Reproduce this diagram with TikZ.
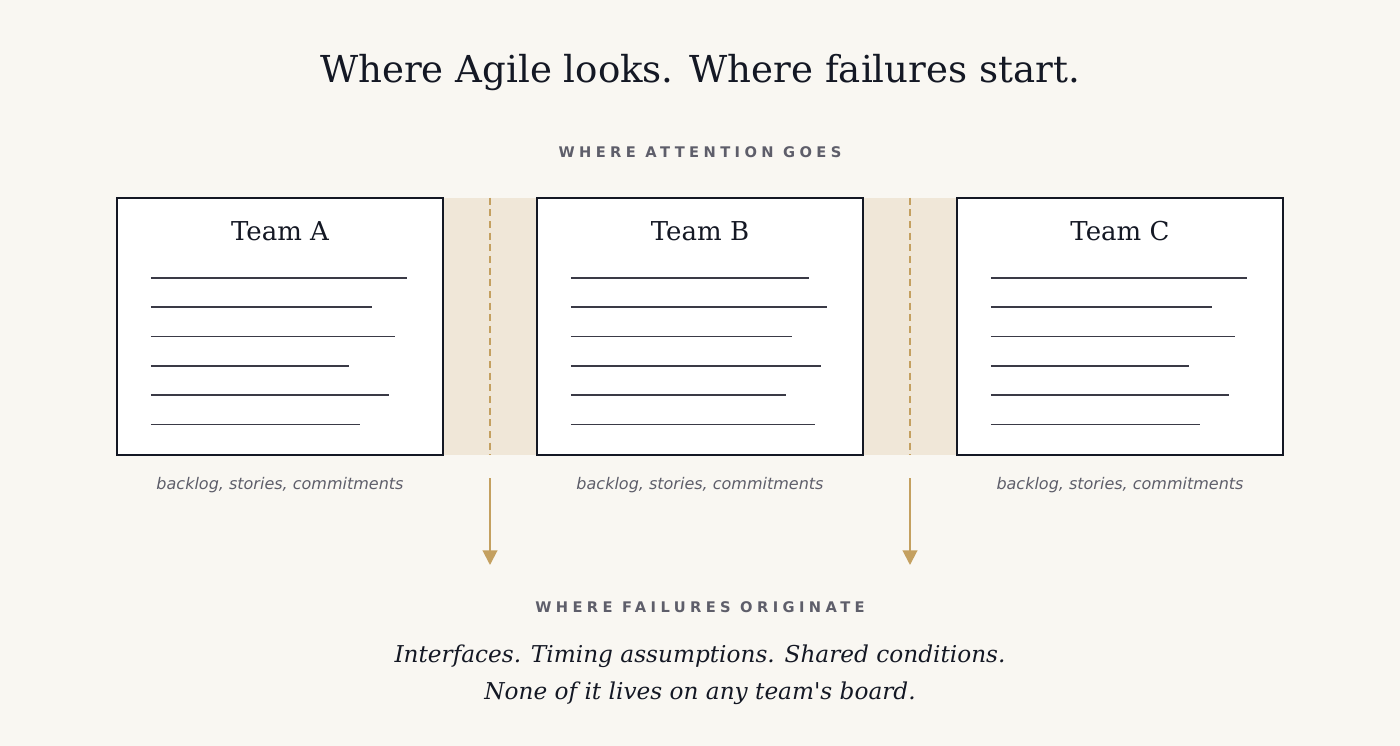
\documentclass[tikz,border=0pt]{standalone}
\usepackage{fontspec}
\setmainfont{DejaVu Serif}
\setsansfont{DejaVu Sans}
\newfontfamily\trackfont{DejaVu Sans}[LetterSpace=30]
\usetikzlibrary{positioning,arrows.meta,calc}

\definecolor{paper}{HTML}{F9F7F2}
\definecolor{band}{HTML}{F0E7D8}
\definecolor{gold}{HTML}{C4A060}
\definecolor{ink}{HTML}{141824}
\definecolor{slate}{HTML}{5E5E6A}
\definecolor{rulegray}{HTML}{3A3A46}

% straight apostrophe, as the picture prints it
\newcommand{\straightq}{\XeTeXglyph\XeTeXglyphindex "quotesingle"\relax}

\tikzset{
  team/.style={draw=ink, line width=1.6pt, fill=white, minimum width=244.5pt,
    minimum height=192.75pt, inner sep=0pt},
  gap/.style={fill=band, minimum width=70.5pt, minimum height=192.75pt, inner sep=0pt},
  seam/.style={gold, line width=1.6pt, dash pattern=on 5.25pt off 3.5pt},
  drop/.style={gold, line width=1.5pt, -{Triangle[width=11pt,length=11pt]}},
  teamname/.style={anchor=base, text=ink, font=\fontsize{19.5}{22}\selectfont},
  caption/.style={anchor=base, text=slate, font=\sffamily\itshape\fontsize{12}{14}\selectfont},
  kicker/.style={anchor=base, text=slate, font=\trackfont\bfseries\fontsize{11}{13}\selectfont},
  closing/.style={anchor=base, text=ink, font=\itshape\fontsize{17.4}{20}\selectfont},
  todo/.style={rulegray, line width=1.15pt}
}

\begin{document}
\begin{tikzpicture}[x=0.75pt, y=-0.75pt]
  % page
  \useasboundingbox[fill=paper] (0,0) rectangle (1400,746);

  \node[anchor=base, text=ink, font=\fontsize{27.85}{32}\selectfont] (title) at (700,82)
    {Where Agile looks. Where failures start.};
  \node[kicker] (attention) at (700,157) {WHERE ATTENTION GOES};

  % seams between the teams
  \node[gap] (gapAB) at (490,326.5) {};
  \node[gap] (gapBC) at (910,326.5) {};
  \draw[seam] (gapAB.north) -- (gapAB.south);
  \draw[seam] (gapBC.north) -- (gapBC.south);

  % team boards
  \foreach \t/\cx/\lens in {A/280/{256,221,244,198,238,209},
                            B/700/{238,256,221,250,215,244},
                            C/1120/{256,221,244,198,238,209}} {
    \node[team] (team\t) at (\cx,326.5) {};
    \node[teamname] (name\t) at (\cx,240) {Team \t};
    \foreach \len [count=\i from 0] in \lens
      \draw[todo] ($(team\t.north west)+(35,81+29.3*\i)$) -- ++(\len,0);
    \node[caption] (note\t) at (\cx,489) {backlog, stories, commitments};
  }

  % where failures go
  \coordinate (fromAB) at (490,478);
  \coordinate (toAB) at (490,565);
  \coordinate (fromBC) at (910,478);
  \coordinate (toBC) at (910,565);
  \draw[drop] (fromAB) -- (toAB);
  \draw[drop] (fromBC) -- (toBC);

  \node[kicker] (origin) at (700,612) {WHERE FAILURES ORIGINATE};
  \node[closing] (lineone) at (700,662) {Interfaces. Timing assumptions. Shared conditions.};
  \node[closing] (linetwo) at (700,699) {None of it lives on any team\straightq s board.};
\end{tikzpicture}
\end{document}
